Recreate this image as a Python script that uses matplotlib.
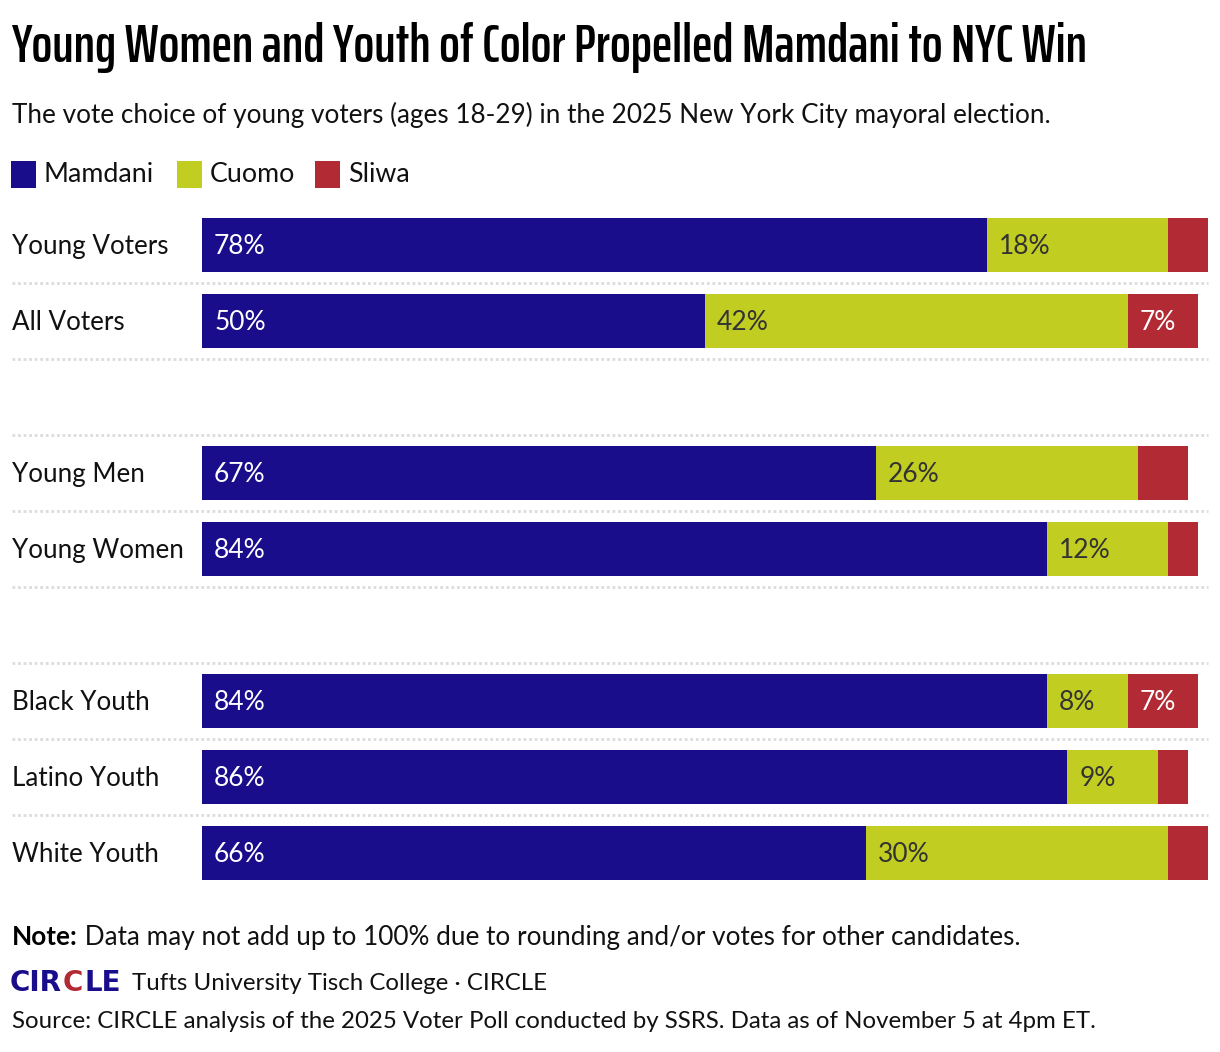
import matplotlib
matplotlib.use("Agg")
import matplotlib.pyplot as plt
from matplotlib.patches import Rectangle
from matplotlib.transforms import blended_transform_factory
from matplotlib import font_manager as fm

# ---------------- data ----------------
categories = ["Young Voters", "All Voters", "Young Men", "Young Women",
              "Black Youth", "Latino Youth", "White Youth"]
mamdani = [78, 50, 67, 84, 84, 86, 66]
cuomo = [18, 42, 26, 12, 8, 9, 30]
sliwa = [4, 7, 5, 3, 7, 3, 4]
series_names = ["Mamdani", "Cuomo", "Sliwa"]
slots = [0, 1, 3, 4, 6, 7, 8]          # row slots (2 and 5 are spacer rows)

title = "Young Women and Youth of Color Propelled Mamdani to NYC Win"
subtitle = "The vote choice of young voters (ages 18-29) in the 2025 New York City mayoral election."
note_bold = "Note:"
note_text = " Data may not add up to 100% due to rounding and/or votes for other candidates."
credit = "Tufts University Tisch College · CIRCLE"
source = "Source: CIRCLE analysis of the 2025 Voter Poll conducted by SSRS. Data as of November 5 at 4pm ET."

BLUE = "#1a0d8c"
GREEN = "#c2cd22"
RED = "#b22a33"
colors = [BLUE, GREEN, RED]
label_colors = ["white", "#333333", "white"]

W, H = 1220, 1052
FONT = "Lato"

fig = plt.figure(figsize=(W / 100, H / 100), dpi=100)
fig.patch.set_facecolor("white")
fig.canvas.draw()
r = fig.canvas.get_renderer()

# headline face: a bold condensed face whose width at ~40pt is closest to the target
target = 1076
cands = []
for f in fm.fontManager.ttflist:
    n = f.name.lower()
    p = f.fname.lower()
    if "mono" in n or "mono" in p or "oblique" in p or "italic" in p:
        continue
    if ("condensed" in n or "narrow" in n or "condensed" in p or "narrow" in p) and \
       ("bold" in p or f.weight in ("bold", 700, 600, "semibold", "demibold")):
        cands.append(fm.FontProperties(fname=f.fname))
best, best_d = None, None
for fp in cands:
    tmp = fig.text(0, 0, title, fontproperties=fp, fontsize=40)
    w = tmp.get_window_extent(r).width
    tmp.remove()
    d = abs(w - target)
    if best_d is None or d < best_d:
        best, best_d = fp, d
title_fp = best if best is not None else fm.FontProperties(family="Roboto", weight="bold")

def fy(px):
    return 1 - px / H

def fx(px):
    return px / W

# ---------------- axes ----------------
ax_top, ax_bot = 207, 891
ax = fig.add_axes([fx(202), fy(ax_bot), fx(1208) - fx(202), (ax_bot - ax_top) / H])
ax.set_xlim(0, 100)
ax.set_ylim(8.5, -0.5)
ax.axis("off")

bar_h = 54 / 76
series = [mamdani, cuomo, sliwa]
ytr = blended_transform_factory(fig.transFigure, ax.transData)
for i, s in enumerate(slots):
    left = 0
    for k, vals in enumerate(series):
        v = vals[i]
        ax.barh(s, v, left=left, height=bar_h, color=colors[k], linewidth=0)
        if v >= 6:
            ax.text(left + 1.2, s + 0.02, f"{v}%", va="center", ha="left",
                    color=label_colors[k], fontsize=19, family=FONT)
        left += v
    ax.text(fx(12), s + 0.02, categories[i], transform=ytr,
            va="center", ha="left", fontsize=18.7, family=FONT, color="#111111")

# dotted separators between every slot
for y in [0.5, 1.5, 2.5, 3.5, 4.5, 5.5, 6.5, 7.5]:
    ax.plot([fx(12), fx(1208)], [y, y], transform=ytr, color="#dcdcdc",
            linestyle=(0, (1.0, 1.0)), linewidth=2.0, clip_on=False)

# ---------------- title / subtitle ----------------
tsize = 40
tt = fig.text(fx(11), fy(62), title, fontproperties=title_fp, fontsize=tsize,
              va="baseline", ha="left", color="black")
wpx = tt.get_window_extent(r).width
tt.set_fontsize(max(30, min(44, tsize * target / wpx)))

fig.text(fx(12), fy(115), subtitle, fontsize=18.8, family=FONT, va="center", ha="left", color="#111111")

# ---------------- legend ----------------
leg_x = [11, 177, 315]
for k, name in enumerate(series_names):
    fig.patches.append(Rectangle((fx(leg_x[k]), fy(188)), 25 / W, 27 / H,
                                 transform=fig.transFigure, color=colors[k], linewidth=0))
    fig.text(fx(leg_x[k] + 33), fy(175), name, fontsize=19.3, family=FONT,
             va="center", ha="left", color="#111111")

# ---------------- footer ----------------
t = fig.text(fx(12), fy(937), note_bold, fontsize=18.8, fontweight="bold", family=FONT,
             va="center", ha="left", color="black")
bb = t.get_window_extent(r)
fig.text(bb.x1 / W, fy(937), note_text, fontsize=18.8, family=FONT,
         va="center", ha="left", color="#111111")

x = 10
for piece, col in [("CIR", BLUE), ("C", RED), ("LE", BLUE)]:
    tt2 = fig.text(x / W, fy(983), piece, fontsize=20, fontweight="bold", family="DejaVu Sans",
                   va="center", ha="left", color=col)
    x = tt2.get_window_extent(r).x1 + 1
fig.text(fx(132), fy(983), credit, fontsize=17.3, family=FONT,
         va="center", ha="left", color="#111111")

fig.text(fx(12), fy(1021), source, fontsize=17.3, family=FONT,
         va="center", ha="left", color="#111111")

fig.savefig("out.png", dpi=100, facecolor="white")
